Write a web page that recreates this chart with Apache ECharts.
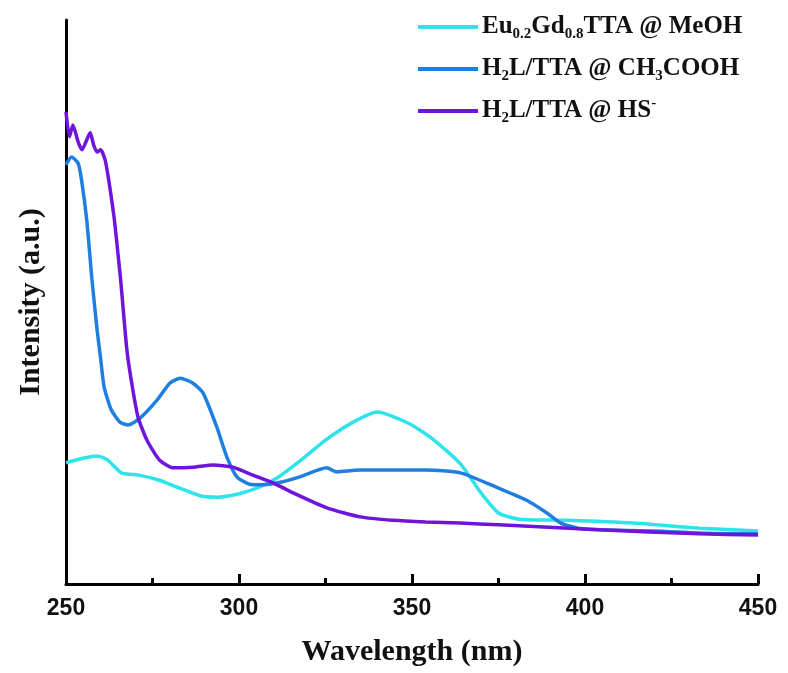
<!DOCTYPE html>
<html>
<head>
<meta charset="utf-8">
<script src="https://cdn.jsdelivr.net/npm/echarts@6/dist/echarts.min.js"></script>
<style>
  html, body { margin: 0; padding: 0; background: #fff; }
  #chart { width: 788px; height: 673px; }
</style>
</head>
<body>
<div id="chart"></div>
<script>
// Emission spectra, wavelength (nm) vs. relative intensity (a.u.)
const seriesNames = ['Eu0.2Gd0.8TTA @ MeOH', 'H2L/TTA @ CH3COOH', 'H2L/TTA @ HS-'];
const xTicks = [250, 300, 350, 400, 450];

// Eu0.2Gd0.8TTA in MeOH
const euWave = [250, 255, 259, 262, 266, 271, 277, 282, 289, 294, 300, 306, 311, 318, 325, 333, 340, 349, 356, 364, 370, 375, 381, 395, 414, 433, 450];
const euInt  = [21.5, 22.3, 22.7, 22.0, 19.7, 19.3, 18.4, 17.2, 15.6, 15.4, 16.0, 17.2, 18.8, 22.0, 25.5, 28.7, 30.5, 28.5, 25.7, 21.3, 16.1, 12.6, 11.5, 11.3, 10.8, 9.9, 9.4];

// H2L/TTA with CH3COOH
const acWave = [250, 251.6, 253.5, 254.5, 256, 257.5, 259, 260, 261, 263, 265.6, 268, 271.4, 276.3, 280, 283, 286.7, 289.6, 293.6, 296.5, 299.4, 303, 307, 311, 317.6, 325.4, 328, 335, 344.5, 354, 364, 375, 383, 389, 393, 398, 405, 420, 435, 450];
const acInt  = [74.3, 75.7, 74.6, 71.6, 64.5, 54.0, 45.0, 40.0, 35.0, 31.0, 28.7, 28.2, 29.4, 32.6, 35.6, 36.5, 35.6, 33.9, 27.8, 22.5, 19.0, 17.7, 17.6, 17.9, 19.0, 20.6, 19.9, 20.2, 20.2, 20.2, 19.7, 17.0, 14.9, 12.6, 10.8, 9.9, 9.6, 9.4, 9.0, 8.9];

// H2L/TTA with HS-
const hsWave = [250, 251, 252, 253.5, 254.6, 257, 258, 259, 260, 261.3, 262.2, 263.2, 264, 265, 265.8, 267.6, 269, 270.8, 273.4, 277, 281, 286.7, 292.5, 298.3, 304, 310, 315.8, 325.4, 335, 344.5, 354, 364, 375, 404, 433, 450];
const hsInt  = [83.7, 79.3, 81.4, 78.4, 77.0, 80.0, 77.8, 76.6, 77.0, 75.2, 72.2, 68.1, 64.5, 58.7, 53.9, 41.5, 35.6, 29.6, 25.5, 22.0, 20.6, 20.7, 21.1, 20.7, 19.3, 17.9, 16.1, 13.5, 11.9, 11.3, 11.0, 10.8, 10.5, 9.6, 8.9, 8.7];

const colors = ['#2fe3ea', '#1f7fe0', '#6f14dc'];
const waves = [euWave, acWave, hsWave];
const ints = [euInt, acInt, hsInt];

const pair = (xs, ys) => xs.map((x, i) => [x, ys[i]]);

const serif = '"Liberation Serif", "Times New Roman", serif';
const sans = '"Liberation Sans", Arial, sans-serif';

// rich-text legend labels with sub/superscripts
const legendRich = {
  [seriesNames[0]]: 'Eu{sub|0.2}Gd{sub|0.8}TTA @ MeOH',
  [seriesNames[1]]: 'H{sub|2}L/TTA @ CH{sub|3}COOH',
  [seriesNames[2]]: 'H{sub|2}L/TTA @ HS{sup|-}'
};

const chart = echarts.init(document.getElementById('chart'));
chart.setOption({
  backgroundColor: '#fff',
  animation: false,
  grid: { left: 66, right: 30, top: 20, bottom: 89 },
  legend: {
    orient: 'vertical',
    left: 413,
    top: 7,
    icon: 'rect',
    itemWidth: 60,
    itemHeight: 4,
    itemGap: 12,
    data: seriesNames,
    formatter: name => legendRich[name],
    textStyle: {
      fontFamily: serif,
      fontWeight: 'bold',
      fontSize: 25,
      color: '#111',
      lineHeight: 30,
      padding: [0, 0, 0, -1],
      rich: {
        sub: { fontFamily: serif, fontWeight: 'bold', fontSize: 15, lineHeight: 15, verticalAlign: 'bottom', color: '#111' },
        sup: { fontFamily: serif, fontWeight: 'bold', fontSize: 15, lineHeight: 15, verticalAlign: 'top', color: '#111' }
      }
    }
  },
  xAxis: {
    type: 'value',
    min: xTicks[0],
    max: xTicks[xTicks.length - 1],
    interval: 50,
    name: 'Wavelength (nm)',
    nameLocation: 'middle',
    nameGap: 53,
    nameTextStyle: { fontFamily: serif, fontWeight: 'bold', fontSize: 30, color: '#111' },
    axisLine: { lineStyle: { color: '#000', width: 3 } },
    axisTick: { inside: true, length: 10, lineStyle: { color: '#000', width: 3 } },
    minorTick: { show: true, splitNumber: 2, length: 6, lineStyle: { color: '#000', width: 3 } },
    axisLabel: { fontFamily: sans, fontWeight: 'bold', fontSize: 23, color: '#111', margin: 13 },
    splitLine: { show: false }
  },
  yAxis: {
    type: 'value',
    min: 0,
    max: 100,
    name: 'Intensity (a.u.)',
    nameLocation: 'middle',
    nameGap: 20,
    nameTextStyle: { fontFamily: serif, fontWeight: 'bold', fontSize: 30, color: '#111' },
    axisLine: { show: true, lineStyle: { color: '#000', width: 3 } },
    axisTick: { show: false },
    axisLabel: { show: false },
    splitLine: { show: false }
  },
  series: seriesNames.map((name, i) => ({
    name,
    type: 'line',
    data: pair(waves[i], ints[i]),
    symbol: 'none',
    smooth: 0.2,
    lineStyle: { color: colors[i], width: 3.5 },
    itemStyle: { color: colors[i] },
    z: 3 + i
  }))
});
</script>
</body>
</html>
